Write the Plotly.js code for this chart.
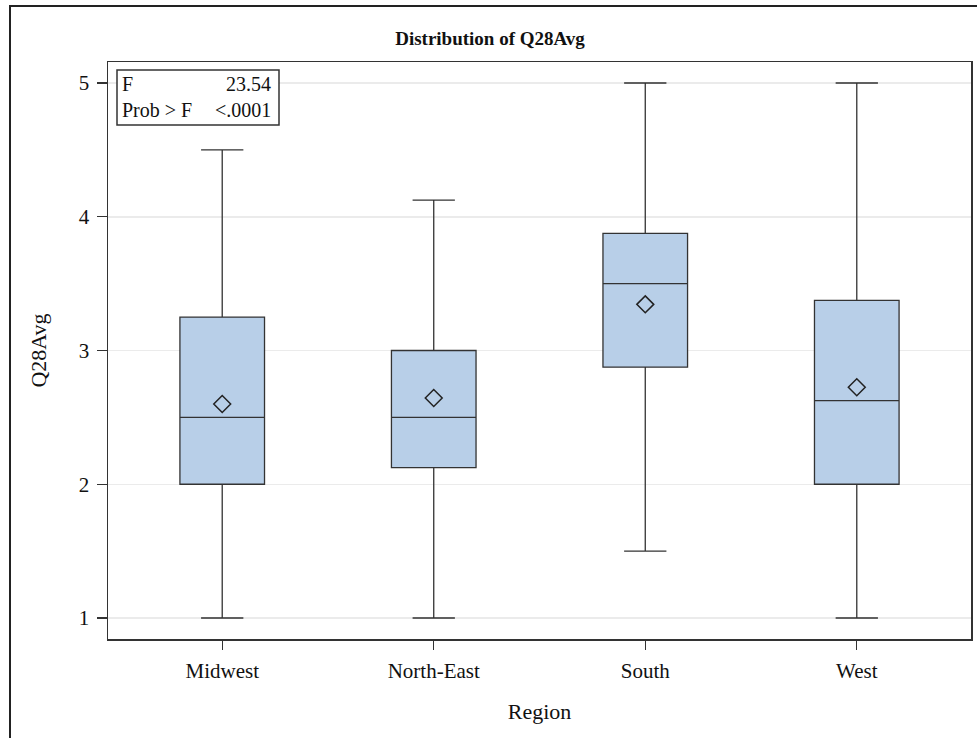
<!DOCTYPE html>
<html>
<head>
<meta charset="utf-8">
<script src="https://cdn.plot.ly/plotly-3.0.1.min.js"></script>
<style>html,body{margin:0;padding:0;background:#fff;}#chart{width:977px;height:738px;}</style>
</head>
<body>
<div id="chart"></div>
<script>
const regions = ["Midwest", "North-East", "South", "West"];
const lowerWhisker = [1, 1, 1.5, 1];
const q1Values = [2, 2.125, 2.875, 2];
const medianValues = [2.5, 2.5, 3.5, 2.625];
const q3Values = [3.25, 3, 3.875, 3.375];
const upperWhisker = [4.5, 4.125, 5, 5];
const meanValues = [2.6, 2.645, 3.345, 2.725];
const yTicks = [1, 2, 3, 4, 5];
const statLabels = ["F", "Prob > F"];
const statValues = ["23.54", "<.0001"];

const W = 977, H = 738;
const M = {l: 108, r: 6, t: 62, b: 99};
const pw = W - M.l - M.r, ph = H - M.t - M.b;
const px = v => (v - M.l) / pw;
const py = v => (H - M.b - v) / ph;

const font = "Liberation Serif, Times New Roman, serif";

const box = {
  type: "box",
  x: regions,
  q1: q1Values,
  median: medianValues,
  q3: q3Values,
  lowerfence: lowerWhisker,
  upperfence: upperWhisker,
  width: 0.4,
  whiskerwidth: 0.5,
  fillcolor: "#b8cfe8",
  line: {color: "#333333", width: 1.3},
  boxpoints: false,
  hoverinfo: "skip",
  showlegend: false
};
const means = {
  type: "scatter",
  mode: "markers",
  x: regions,
  y: meanValues,
  marker: {symbol: "diamond-open", size: 13, color: "#222222", line: {width: 1.5, color: "#222222"}},
  showlegend: false,
  hoverinfo: "skip"
};

const annotations = [];
statLabels.forEach((lab, i) => {
  const yy = 84 + i * 26;
  annotations.push({xref: "paper", yref: "paper", x: px(120), y: py(yy), xanchor: "left", yanchor: "middle",
    text: lab, showarrow: false, font: {family: font, size: 20, color: "#111"}});
  annotations.push({xref: "paper", yref: "paper", x: px(273), y: py(yy), xanchor: "right", yanchor: "middle",
    text: statValues[i], showarrow: false, font: {family: font, size: 20, color: "#111"}});
});

const layout = {
  width: W, height: H,
  margin: M,
  paper_bgcolor: "#fff",
  plot_bgcolor: "#fff",
  font: {family: font, color: "#111"},
  title: {text: "<b>Distribution of Q28Avg</b>", x: 490 / W, xref: "container", xanchor: "center", y: 1 - 38 / H, yanchor: "middle",
    font: {family: font, size: 19, color: "#111"}},
  xaxis: {
    type: "category", range: [-0.54, 3.54],
    showline: true, mirror: true, linecolor: "#333", linewidth: 1.5,
    ticks: "outside", ticklen: 9, tickcolor: "#333", tickwidth: 1.3,
    showgrid: false, zeroline: false,
    ticklabelstandoff: 3,
    tickfont: {family: font, size: 21, color: "#111"},
    title: {text: "Region", font: {family: font, size: 22, color: "#111"}, standoff: 22}
  },
  yaxis: {
    range: [0.843, 5.157],
    tickvals: yTicks,
    showline: true, mirror: true, linecolor: "#333", linewidth: 1.5,
    ticks: "outside", ticklen: 10, tickcolor: "#333", tickwidth: 1.3,
    showgrid: true, gridcolor: "#ebebeb", gridwidth: 1.5, zeroline: false,
    ticklabelstandoff: 3,
    tickfont: {family: font, size: 21, color: "#111"},
    title: {text: "Q28Avg", font: {family: font, size: 22, color: "#111"}, standoff: 26}
  },
  shapes: [
    {type: "rect", xref: "paper", yref: "paper", x0: px(10), x1: px(990), y0: py(760), y1: py(6),
      line: {color: "#222", width: 2}, fillcolor: "rgba(0,0,0,0)", layer: "above"},
    {type: "rect", xref: "paper", yref: "paper", x0: px(117), x1: px(279), y0: py(125), y1: py(70),
      line: {color: "#333", width: 1.5}, fillcolor: "#fff", layer: "above"}
  ],
  annotations: annotations
};

Plotly.newPlot("chart", [box, means], layout, {displayModeBar: false, staticPlot: true});
</script>
</body>
</html>
